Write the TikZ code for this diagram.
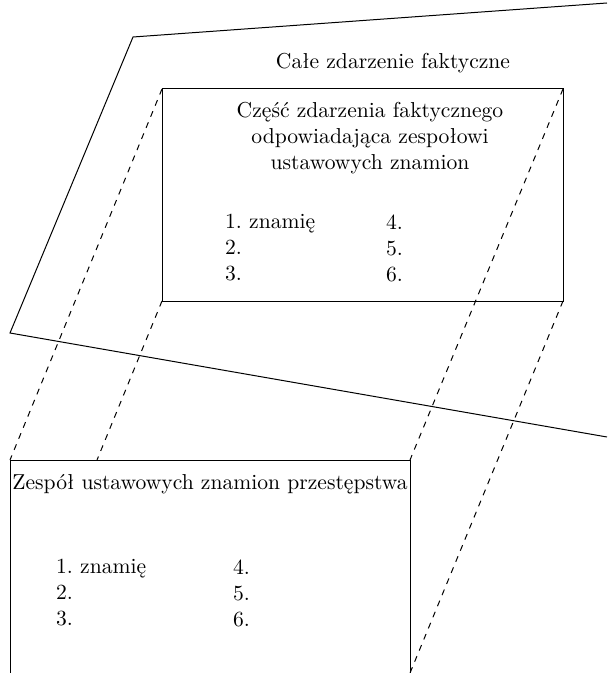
\documentclass[tikz,border=0pt]{standalone}
\usepackage{amsmath}
\frenchspacing

\begin{document}
\begin{tikzpicture}[x=0.5pt,y=-0.5pt,line width=0.5pt,
  font=\fontsize{10.8}{13}\selectfont,
  rzut/.style={dashed},
  lista/.style={anchor=west,align=left}]
\useasboundingbox (0,0) rectangle (607,673);

% cale zdarzenie faktyczne
\draw (607,3) -- (133,37) -- (10,333) -- (607,437);
\node (cale) at (393,63) {Całe zdarzenie faktyczne};

% czesc zdarzenia
\coordinate (ptl) at (162,89);
\coordinate (ptr) at (563,89);
\coordinate (pbl) at (162,301);
\coordinate (pbr) at (563,301);
\draw (ptl) rectangle (pbr);
\node[align=center] (czesc) at (370,138)
  {Część zdarzenia faktycznego\\odpowiadająca zespołowi\\ustawowych znamion};
\node[lista] (cz1) at (218,248) {1. znamię\\2.\\3.};
\node[lista] (cz2) at (379,248) {4.\\5.\\6.};

% zespol znamion
\coordinate (ztl) at (10,460);
\coordinate (ztr) at (410,460);
\coordinate (zbl) at (10,673);
\coordinate (zbr) at (410,673);
\coordinate (zsr) at (97,460);
\draw (zbl) -- (ztl) -- (ztr) -- (zbr);
\node (zespol) at (210,484) {Zespół ustawowych znamion przestępstwa};
\node[lista] (ze1) at (49,593) {1. znamię\\2.\\3.};
\node[lista] (ze2) at (226,593) {4.\\5.\\6.};

% rzutowanie
\draw[rzut] (ptl) -- (ztl);
\draw[rzut] (pbl) -- (zsr);
\draw[rzut] (ptr) -- (ztr);
\draw[rzut] (pbr) -- (zbr);

\end{tikzpicture}
\end{document}
